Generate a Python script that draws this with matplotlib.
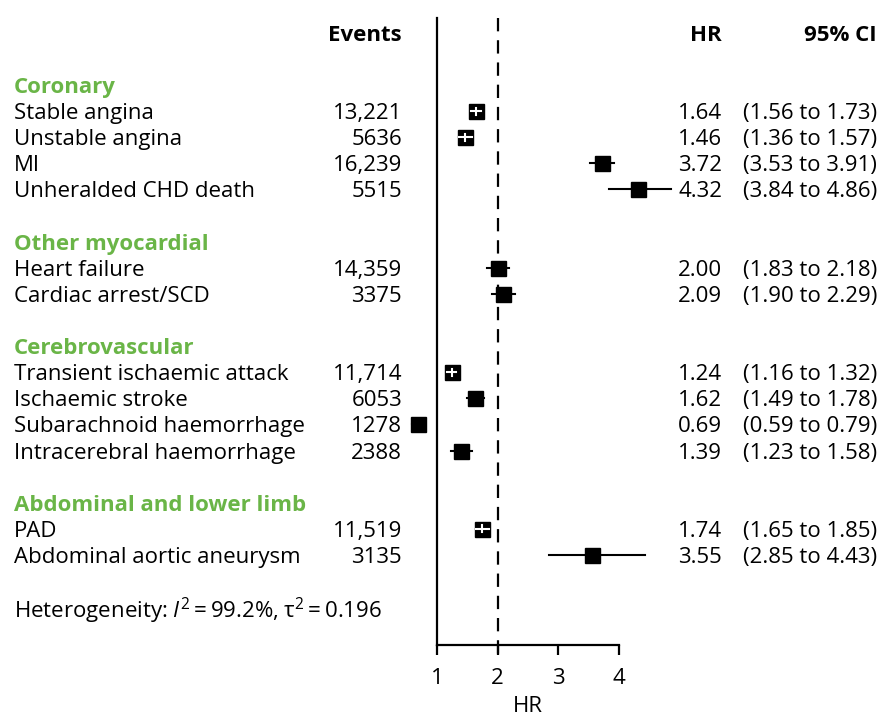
import numpy as np
import matplotlib
matplotlib.use("Agg")
import matplotlib.pyplot as plt
from matplotlib.transforms import blended_transform_factory

plt.rcParams['font.family'] = ['Open Sans', 'DejaVu Sans']
plt.rcParams['mathtext.fontset'] = 'custom'
plt.rcParams['mathtext.rm'] = 'Open Sans'
plt.rcParams['mathtext.it'] = 'Open Sans:italic'

groups = ['Coronary', 'Other myocardial', 'Cerebrovascular', 'Abdominal and lower limb']
group_rows = [0, 6, 10, 16]

names = ['Stable angina', 'Unstable angina', 'MI', 'Unheralded CHD death',
         'Heart failure', 'Cardiac arrest/SCD',
         'Transient ischaemic attack', 'Ischaemic stroke',
         'Subarachnoid haemorrhage', 'Intracerebral haemorrhage',
         'PAD', 'Abdominal aortic aneurysm']
rows = [1, 2, 3, 4, 7, 8, 11, 12, 13, 14, 17, 18]
events = ['13,221', '5636', '16,239', '5515', '14,359', '3375',
          '11,714', '6053', '1278', '2388', '11,519', '3135']
hr = [1.64, 1.46, 3.72, 4.32, 2.00, 2.09, 1.24, 1.62, 0.69, 1.39, 1.74, 3.55]
lo = [1.56, 1.36, 3.53, 3.84, 1.83, 1.90, 1.16, 1.49, 0.59, 1.23, 1.65, 2.85]
hi = [1.73, 1.57, 3.91, 4.86, 2.18, 2.29, 1.32, 1.78, 0.79, 1.58, 1.85, 4.43]

green = '#6ab547'
W, H = 880, 716
fs = 16

fig = plt.figure(figsize=(8.8, 7.16), dpi=100)
ax = fig.add_axes([437 / W, 1 - 645 / H, 182 / W, (645 - 18) / H])
ax.set_xlim(1, 4)
ax.set_ylim(21.45, -2.57)
for s in ['top', 'right']:
    ax.spines[s].set_visible(False)
ax.spines['left'].set_linewidth(1.6)
ax.spines['bottom'].set_linewidth(1.6)
ax.set_yticks([])
ax.set_xticks([1, 2, 3, 4])
ax.tick_params(axis='x', length=7.5, width=1.6, labelsize=fs, pad=9)
ax.set_xlabel('HR', fontsize=fs, labelpad=5)

# reference line at HR = 2
ax.plot([2, 2], [-2.57, 21.95], color='black', lw=1.6, dashes=(6, 4), clip_on=False)

box = 0.25  # box width in HR units (~15 px)
for r, h, l, u in zip(rows, hr, lo, hi):
    ax.plot([l, u], [r, r], color='black', lw=1.5, clip_on=False, zorder=3)
    ax.plot(h, r, 's', color='black', ms=10.8, clip_on=False, zorder=4)
    # CI hidden inside the box: show it in white
    if l > h - box / 2 and u < h + box / 2:
        ax.plot([l, u], [r, r], color='white', lw=1.5, zorder=5)
        ax.plot([h, h], [r - 0.13, r + 0.13], color='white', lw=1.5, zorder=5)

tr = blended_transform_factory(fig.transFigure, ax.transData)
va = 'center_baseline'

ax.text(402 / W, -2, 'Events', transform=tr, ha='right', va=va, fontsize=fs, fontweight='bold')
ax.text(722 / W, -2, 'HR', transform=tr, ha='right', va=va, fontsize=fs, fontweight='bold')
ax.text(877 / W, -2, '95% CI', transform=tr, ha='right', va=va, fontsize=fs, fontweight='bold')

for g, r in zip(groups, group_rows):
    ax.text(14 / W, r, g, transform=tr, ha='left', va=va, fontsize=fs,
            fontweight='bold', color=green)

for n, r, e, h, l, u in zip(names, rows, events, hr, lo, hi):
    ax.text(14 / W, r, n, transform=tr, ha='left', va=va, fontsize=fs)
    ax.text(402 / W, r, e, transform=tr, ha='right', va=va, fontsize=fs)
    ax.text(722 / W, r, f'{h:.2f}', transform=tr, ha='right', va=va, fontsize=fs)
    ax.text(877 / W, r, f'({l:.2f} to {u:.2f})', transform=tr, ha='right', va=va, fontsize=fs)

ax.text(14 / W, 20, 'Heterogeneity: $\\mathit{I}^{2}$\u2009=\u200999.2%, τ$^{2}$\u2009=\u20090.196',
        transform=tr, ha='left', va=va, fontsize=fs)

fig.savefig('out.png', dpi=100)
